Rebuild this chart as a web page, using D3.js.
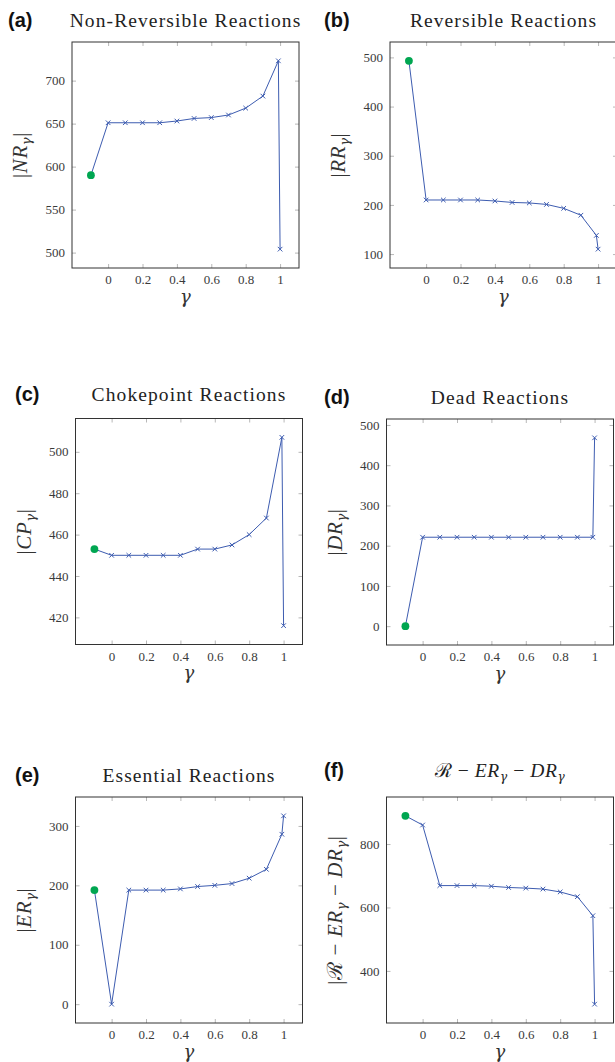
<!DOCTYPE html>
<html>
<head>
<meta charset="utf-8">
<script src="https://cdn.jsdelivr.net/npm/d3@7"></script>
<style>
  body { margin: 0; background: #fff; }
  svg { display: block; }
</style>
</head>
<body>
<div id="chart"></div>
<script>
/* DATA */
const gamma = [-0.1, 0, 0.1, 0.2, 0.3, 0.4, 0.5, 0.6, 0.7, 0.8, 0.9, 0.99, 1];
const nonReversible = [590, 651, 651, 651, 651, 653, 656, 657, 660, 668, 682, 723, 504];
const reversible = [493, 210, 210, 210, 210, 208, 205, 204, 201, 193, 179, 138, 110];
const chokepoint = [453, 450, 450, 450, 450, 450, 453, 453, 455, 460, 468, 507, 416];
const dead = [0, 221, 221, 221, 221, 221, 221, 221, 221, 221, 221, 221, 468];
const essential = [192, 0, 192, 192, 192, 194, 198, 200, 203, 212, 227, 286, 317];
const remaining = [889, 860, 669, 669, 669, 667, 663, 661, 658, 649, 634, 574, 295];

const xTicks = [0, 0.2, 0.4, 0.6, 0.8, 1];
const nrTicks = [500, 550, 600, 650, 700];
const rrTicks = [100, 200, 300, 400, 500];
const cpTicks = [420, 440, 460, 480, 500];
const drTicks = [0, 100, 200, 300, 400, 500];
const erTicks = [0, 100, 200, 300];
const remTicks = [400, 600, 800];

/* CONSTANTS */
const width = 615, height = 1062;
const boxW = 227, boxH = 226;
const blue = "#3d5cb0", green = "#00a651";
const serif = "Liberation Serif, serif";
const mathSerif = "DejaVu Serif, serif";

// label pieces: [text, style] where style is "n" normal, "i" italic, "s" subscript
const panels = [
  { tag: "(a)", title: [["Non-Reversible Reactions", "n"]],
    ylab: [["|", "n"], ["NR", "i"], ["γ", "s"], ["|", "n"]],
    values: nonReversible, ticks: nrTicks,
    left: 72, top: 42, tagX: 8, titleGap: 15 },
  { tag: "(b)", title: [["Reversible Reactions", "n"]],
    ylab: [["|", "n"], ["RR", "i"], ["γ", "s"], ["|", "n"]],
    values: reversible, ticks: rrTicks,
    left: 390, top: 42, tagX: 324, titleGap: 15 },
  { tag: "(c)", title: [["Chokepoint Reactions", "n"]],
    ylab: [["|", "n"], ["CP", "i"], ["γ", "s"], ["|", "n"]],
    values: chokepoint, ticks: cpTicks,
    left: 75.5, top: 418.5, tagX: 15, titleGap: 18 },
  { tag: "(d)", title: [["Dead Reactions", "n"]],
    ylab: [["|", "n"], ["DR", "i"], ["γ", "s"], ["|", "n"]],
    values: dead, ticks: drTicks,
    left: 386.5, top: 419, tagX: 324, titleGap: 15 },
  { tag: "(e)", title: [["Essential Reactions", "n"]],
    ylab: [["|", "n"], ["ER", "i"], ["γ", "s"], ["|", "n"]],
    values: essential, ticks: erTicks,
    left: 75.5, top: 797, tagX: 15, titleGap: 15 },
  { tag: "(f)", title: [["ℛ", "n"], [" − ", "n"], ["ER", "i"], ["γ", "s"], [" − ", "n"], ["DR", "i"], ["γ", "s"]],
    ylab: [["|", "n"], ["ℛ", "n"], [" − ", "n"], ["ER", "i"], ["γ", "s"], [" − ", "n"], ["DR", "i"], ["γ", "s"], ["|", "n"]],
    values: remaining, ticks: remTicks,
    left: 386.5, top: 797, tagX: 324, titleGap: 20, titleSpacing: 0.6 }
];

const svg = d3.select("#chart")
  .append("svg")
  .attr("width", width)
  .attr("height", height);

// writes pieces into a text element as tspans (subscripts shifted down)
function writeRich(textSel, pieces, size) {
  let shifted = false;
  pieces.forEach(([t, style]) => {
    const ts = textSel.append("tspan").text(t);
    if (style === "i") ts.attr("font-style", "italic");
    if (style === "s") {
      ts.attr("font-family", mathSerif).attr("font-style", "italic")
        .attr("font-size", size * 0.62).attr("dy", size * 0.2);
      shifted = true;
    } else if (shifted) {
      ts.attr("dy", -size * 0.2);
      shifted = false;
    }
  });
}

const xScale = d3.scaleLinear().domain([-0.21, 1.11]).range([0, boxW]);

panels.forEach(p => {
  const ext = d3.extent(p.values);
  const pad = (ext[1] - ext[0]) * 0.1;
  const yScale = d3.scaleLinear().domain([ext[0] - pad, ext[1] + pad]).range([boxH, 0]);

  const g = svg.append("g").attr("transform", `translate(${p.left}, ${p.top})`);

  // axes, ticks pointing inwards on all four sides
  g.append("g")
    .attr("class", "axis x-axis")
    .attr("transform", `translate(0, ${boxH})`)
    .call(d3.axisBottom(xScale).tickValues(xTicks).tickSizeInner(-4).tickSizeOuter(0)
      .tickPadding(7).tickFormat(d3.format("")));
  g.append("g")
    .call(d3.axisTop(xScale).tickValues(xTicks).tickSizeInner(-4).tickSizeOuter(0).tickFormat(""));
  g.append("g")
    .attr("class", "axis y-axis")
    .call(d3.axisLeft(yScale).tickValues(p.ticks).tickSizeInner(-4).tickSizeOuter(0)
      .tickPadding(7).tickFormat(d3.format("")));
  g.append("g")
    .attr("transform", `translate(${boxW}, 0)`)
    .call(d3.axisRight(yScale).tickValues(p.ticks).tickSizeInner(-4).tickSizeOuter(0).tickFormat(""));

  g.selectAll(".axis")
    .attr("font-family", serif)
    .attr("font-size", 13);
  g.selectAll(".tick text").attr("fill", "#3a3a3a");
  g.selectAll(".domain").remove();
  g.selectAll(".tick line").attr("stroke", "#b8b8b8");

  g.append("rect")
    .attr("width", boxW)
    .attr("height", boxH)
    .attr("fill", "none")
    .attr("stroke", "#333")
    .attr("stroke-width", 1);

  // data
  const pts = gamma.map((x, i) => ({ x, y: p.values[i] }));
  const lineFunc = d3.line().x(d => xScale(d.x)).y(d => yScale(d.y));

  g.append("path")
    .datum(pts)
    .attr("d", lineFunc)
    .attr("fill", "none")
    .attr("stroke", blue)
    .attr("stroke-width", 1);

  const s = 2.3;
  g.selectAll("path.mark")
    .data(pts.slice(1))
    .join("path")
    .attr("class", "mark")
    .attr("d", d => {
      const cx = xScale(d.x), cy = yScale(d.y);
      return `M${cx - s},${cy - s}L${cx + s},${cy + s}M${cx - s},${cy + s}L${cx + s},${cy - s}`;
    })
    .attr("stroke", blue)
    .attr("stroke-width", 1);

  g.append("circle")
    .attr("cx", xScale(pts[0].x))
    .attr("cy", yScale(pts[0].y))
    .attr("r", 3.9)
    .attr("fill", green);

  // title
  const title = g.append("text")
    .attr("x", boxW / 2)
    .attr("y", -p.titleGap)
    .attr("text-anchor", "middle")
    .attr("font-family", serif)
    .attr("font-size", 19.5)
    .attr("letter-spacing", p.titleSpacing ?? 1.1)
    .attr("fill", "#222");
  writeRich(title, p.title, 19.5);

  // panel tag
  svg.append("text")
    .attr("x", p.tagX)
    .attr("y", p.top - p.titleGap)
    .attr("font-family", "Liberation Sans, Arial, sans-serif")
    .attr("font-weight", "bold")
    .attr("font-size", 20)
    .attr("fill", "#111")
    .text(p.tag);

  // axis labels
  g.append("text")
    .attr("x", boxW / 2)
    .attr("y", boxH + 34.5)
    .attr("text-anchor", "middle")
    .attr("font-family", mathSerif)
    .attr("font-style", "italic")
    .attr("font-size", 18)
    .attr("fill", "#333")
    .text("γ");

  const ylab = g.append("text")
    .attr("transform", `translate(${-45}, ${boxH / 2}) rotate(-90)`)
    .attr("text-anchor", "middle")
    .attr("font-family", serif)
    .attr("font-size", 21)
    .attr("letter-spacing", 0.6)
    .attr("fill", "#333");
  writeRich(ylab, p.ylab, 21);
});
</script>
</body>
</html>
